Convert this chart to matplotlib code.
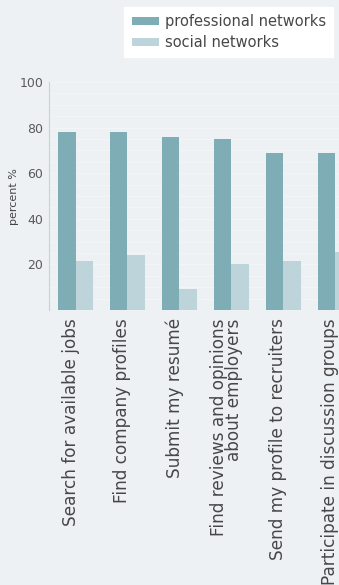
import matplotlib
matplotlib.use("Agg")
import matplotlib.pyplot as plt
import numpy as np
from matplotlib.patches import Patch
from matplotlib.transforms import ScaledTranslation

categories = [
    "Search for available jobs",
    "Find company profiles",
    "Submit my resumé",
    "Find reviews and opinions\nabout employers",
    "Send my profile to recruiters",
    "Participate in discussion groups",
]
professional = [78, 78, 76, 75, 69, 69]
social = [21.5, 24, 9, 20, 21.5, 25.5]
series_names = ["professional networks", "social networks"]
yticks = [20, 40, 60, 80, 100]

bg = "#edf1f4"
c_prof = "#7eadb5"
c_soc = "#bcd4da"

plt.rcParams['font.family'] = ['DejaVu Sans']

W, H = 339, 585
fig = plt.figure(figsize=(W / 100, H / 100), dpi=100)
fig.patch.set_facecolor(bg)

left_px, right_px, top_px, bot_px = 49, 339, 82, 310
ax = fig.add_axes([left_px / W, 1 - bot_px / H, (right_px - left_px) / W, (bot_px - top_px) / H])
ax.set_facecolor(bg)

x = np.arange(len(categories))
bw = 0.33
ax.bar(x - bw / 2, professional, width=bw, color=c_prof, zorder=3)
ax.bar(x + bw / 2, social, width=bw, color=c_soc, zorder=3)

ax.set_xlim(-0.51, 5.07)
ax.set_ylim(0, 100)
ax.set_yticks(yticks)
ax.set_yticklabels([str(v) for v in yticks], fontsize=9, color="#5a5a5a")
ax.tick_params(axis='y', length=0, pad=4)
ax.set_yticks(np.arange(0, 101, 5), minor=True)
ax.tick_params(axis='y', which='minor', length=0)
ax.grid(axis='y', which='both', color='#f3f6f8', linewidth=0.7, zorder=0)

ax.set_xticks(x)
ax.set_xticklabels(categories, rotation=90, fontsize=12.2, color="#474747",
                   multialignment='right', linespacing=0.8)
ax.tick_params(axis='x', length=0, pad=6)
off = ScaledTranslation(-5 / 100, 0, fig.dpi_scale_trans)
for lab in ax.get_xticklabels():
    lab.set_transform(lab.get_transform() + off)

for s in ['top', 'right', 'bottom']:
    ax.spines[s].set_visible(False)
ax.spines['left'].set_color('#c9d0d5')
ax.spines['left'].set_linewidth(0.8)

fig.text(14 / W, 1 - 197 / H, "percent %", rotation=90, fontsize=8,
         color="#444444", ha='center', va='center')

handles = [Patch(facecolor=c_prof, edgecolor='none'), Patch(facecolor=c_soc, edgecolor='none')]
leg = fig.legend(handles, series_names, loc='upper right',
                 bbox_to_anchor=(333 / W, 1 - 7 / H), fontsize=10.5,
                 frameon=True, fancybox=False, framealpha=1,
                 handlelength=1.9, handleheight=0.45, handletextpad=0.35,
                 labelspacing=0.4, borderpad=0.5, borderaxespad=0.0,
                 labelcolor="#474747")
leg.get_frame().set_facecolor('white')
leg.get_frame().set_edgecolor('white')

fig.savefig("out.png", dpi=100, facecolor=bg)
